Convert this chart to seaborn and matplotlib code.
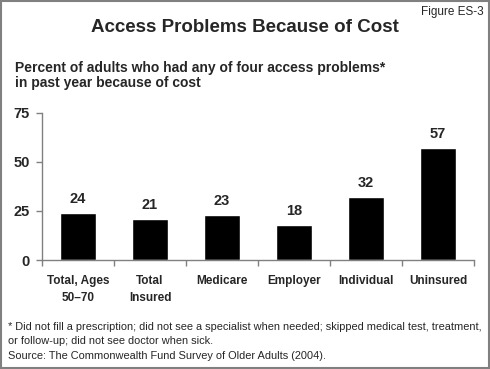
import matplotlib
matplotlib.use("Agg")
import matplotlib.pyplot as plt
import seaborn as sns
import pandas as pd
from matplotlib.patches import Rectangle

categories = ["Total, Ages\n50\u201370", "Total\nInsured", "Medicare", "Employer", "Individual", "Uninsured"]
values = [24, 21, 23, 18, 32, 57]
yticks = [0, 25, 50, 75]

sns.set_theme(style="white")
plt.rcParams['font.family'] = ['Liberation Sans', 'DejaVu Sans']

df = pd.DataFrame({"cat": categories, "val": values})

fig = plt.figure(figsize=(4.9, 3.69), dpi=100)
ax = fig.add_axes([42 / 490, 1 - 260 / 369, 432 / 490, 147 / 369])

sns.barplot(data=df, x="cat", y="val", color="black", width=0.5, saturation=1, ax=ax)

ax.set_xlim(-0.5, len(categories) - 0.5)
ax.set_ylim(0, 75)
ax.set_yticks(yticks)
ax.set_yticklabels([str(t) for t in yticks], fontweight="bold", fontsize=10.5)
ax.set_xticks(range(len(categories)))
ax.set_xticklabels(categories, fontweight="bold", fontsize=8.5, linespacing=1.55)
ax.set_xlabel("")
ax.set_ylabel("")

# tick marks between categories on the x axis
ax.set_xticks([i - 0.5 for i in range(len(categories) + 1)], minor=True)
ax.tick_params(axis="x", which="major", length=0, pad=11)
ax.tick_params(axis="x", which="minor", length=4, color="#808080", width=1, direction="out", bottom=True)
ax.tick_params(axis="y", length=4, color="#808080", width=1, direction="out", left=True, pad=5)

for s in ["top", "right"]:
    ax.spines[s].set_visible(False)
for s in ["left", "bottom"]:
    ax.spines[s].set_color("#808080")
    ax.spines[s].set_linewidth(1)

for i, v in enumerate(values):
    ax.annotate(str(v), (i, v), xytext=(0, 10), textcoords="offset points",
                ha="center", va="center", fontweight="bold", fontsize=10.5)

fig.text(245 / 490, 1 - 27 / 369, "Access Problems Because of Cost", ha="center", va="center",
         fontweight="bold", fontsize=13.5)
fig.text(484 / 490, 1 - 12 / 369, "Figure ES-3", ha="right", va="center", fontsize=8.5)
fig.text(15 / 490, 1 - 68 / 369, "Percent of adults who had any of four access problems*",
         ha="left", va="center", fontweight="bold", fontsize=10)
fig.text(15 / 490, 1 - 83 / 369, "in past year because of cost",
         ha="left", va="center", fontweight="bold", fontsize=10)
fig.text(8 / 490, 1 - 327 / 369,
         "* Did not fill a prescription; did not see a specialist when needed; skipped medical test, treatment,",
         ha="left", va="center", fontsize=7.9)
fig.text(8 / 490, 1 - 341 / 369, "or follow-up; did not see doctor when sick.",
         ha="left", va="center", fontsize=7.9)
fig.text(8 / 490, 1 - 356 / 369, "Source: The Commonwealth Fund Survey of Older Adults (2004).",
         ha="left", va="center", fontsize=7.9)

fig.patches.append(Rectangle((0.003, 0.003), 0.994, 0.994, transform=fig.transFigure,
                             fill=False, edgecolor="#808080", linewidth=1.5))

fig.savefig("out.png", dpi=100)
